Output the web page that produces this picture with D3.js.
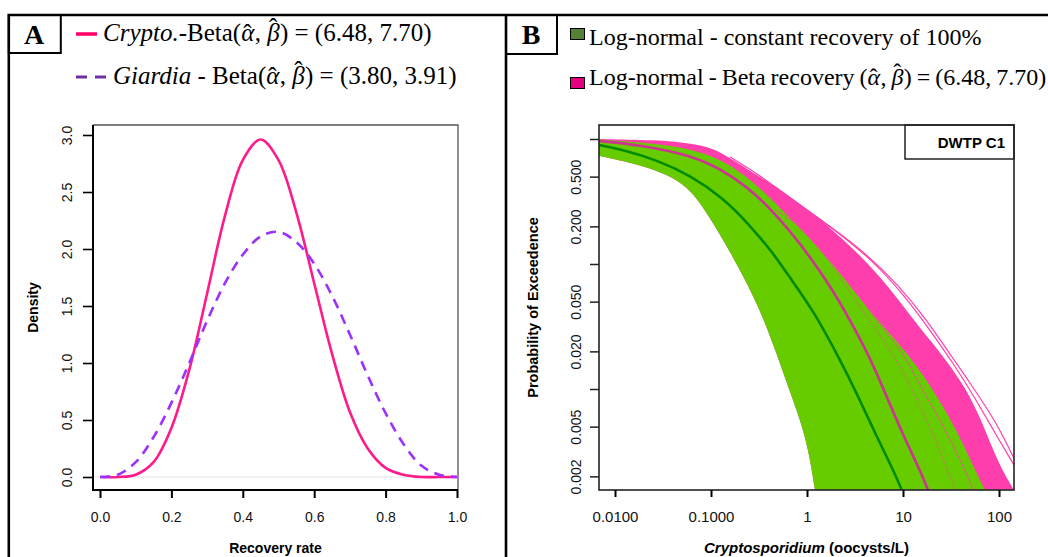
<!DOCTYPE html>
<html><head><meta charset="utf-8">
<script src="https://cdn.jsdelivr.net/npm/d3@7"></script>
<style>body{margin:0;background:#fff;} svg{display:block;}</style>
</head><body><svg id="c" width="1048" height="557"></svg>
<script>
// ---------------- DATA ----------------
// Panel A: beta densities of recovery rate
const recoveryX      = [0, 0.05, 0.10, 0.15, 0.20, 0.25, 0.30, 0.35, 0.40, 0.45, 0.50, 0.55, 0.60, 0.65, 0.70, 0.75, 0.80, 0.85, 0.90, 0.95, 1.00];
const cryptoDensity  = [0, 0.00, 0.02, 0.13, 0.43, 0.94, 1.61, 2.29, 2.78, 2.96, 2.78, 2.32, 1.70, 1.08, 0.57, 0.25, 0.08, 0.02, 0.00, 0.00, 0.00];
const giardiaDensity = [0, 0.02, 0.13, 0.35, 0.65, 1.00, 1.37, 1.70, 1.95, 2.11, 2.15, 2.06, 1.87, 1.59, 1.25, 0.89, 0.56, 0.29, 0.10, 0.02, 0.00];
const densityTicks  = [0, 0.5, 1, 1.5, 2, 2.5, 3];
const recoveryTicks = [0, 0.2, 0.4, 0.6, 0.8, 1.0];
const cryptoParams  = "(6.48, 7.70)";
const giardiaParams = "(3.80, 3.91)";

// Panel B: exceedance curves, pairs of [concentration (oocysts/L), probability of exceedence]
const concTicks      = [0.01, 0.1, 1, 10, 100];
const concTickLabels = ["0.0100", "0.1000", "1", "10", "100"];
const probTicks      = [1, 0.5, 0.2, 0.1, 0.05, 0.02, 0.01, 0.005, 0.002];
const probTickLabels = ["", "0.500", "0.200", "", "0.050", "0.020", "", "0.005", "0.002"];
const legendB1 = "Log-normal - constant recovery of 100%";
const legendB2 = "Log-normal - Beta recovery ";
const panelBTag = "DWTP C1";

const greenUpper  = [[0.0068,0.99],[0.0182,0.942],[0.0405,0.883],[0.0901,0.769],[0.171,0.600],[0.299,0.428],[0.524,0.281],[1.07,0.161],[2.39,0.0791],[4.53,0.0413],[10.9,0.0198],[20.7,0.00982],[36.3,0.00470],[56.2,0.00225],[71.5,0.00156]];
const greenLower  = [[0.0068,0.734],[0.0122,0.667],[0.0272,0.565],[0.0440,0.470],[0.0604,0.391],[0.0826,0.286],[0.113,0.194],[0.158,0.125],[0.237,0.0705],[0.348,0.0377],[0.488,0.0187],[0.665,0.00946],[0.908,0.00488],[1.07,0.00281],[1.21,0.00156]];
const greenMedian = [[0.0068,0.895],[0.0122,0.817],[0.0272,0.679],[0.0604,0.515],[0.134,0.336],[0.235,0.218],[0.446,0.122],[0.615,0.0843],[1.16,0.0429],[2.21,0.0171],[3.30,0.00924],[5.32,0.00415],[7.93,0.00225],[9.69,0.00156]];
const pinkUpper   = [[0.0068,1.0],[0.0272,0.982],[0.0604,0.925],[0.106,0.843],[0.158,0.702],[0.299,0.515],[0.483,0.413],[0.665,0.344],[1.60,0.209],[3.56,0.118],[7.33,0.0643],[13.3,0.0344],[24.3,0.0198],[43.2,0.0108],[63.4,0.0060],[86.6,0.00325],[115,0.00205],[143,0.00156]];
const pinkOutlier1 = [[0.158,0.718],[0.299,0.535],[0.665,0.337],[3.56,0.137],[9.31,0.0658],[17.7,0.0356],[32.2,0.0181],[49.9,0.0112],[80.5,0.00643],[102,0.00470],[143,0.0028]];
const pinkOutlier2 = [[0.665,0.330],[1.74,0.201],[4.53,0.112],[10.5,0.0555],[19.1,0.0296],[34.8,0.0153],[56.2,0.00847],[90.8,0.00445],[143,0.00247]];
const pinkStreak1 = [[0.464,0.270],[0.953,0.194],[2.21,0.0929],[4.02,0.0470],[7.33,0.0256],[10.0,0.0198],[16.9,0.00895],[28.1,0.00470],[44.2,0.00225],[53.6,0.00156]];
const pinkStreak2 = [[0.845,0.205],[1.74,0.104],[3.16,0.0515],[5.75,0.0270],[9.31,0.0156],[15.0,0.00745],[24.3,0.00325],[34.8,0.00156]];
const pinkMedian  = [[0.0068,0.964],[0.0182,0.895],[0.0604,0.745],[0.133,0.565],[0.237,0.413],[0.383,0.296],[0.714,0.174],[1.61,0.0745],[3.01,0.0325],[4.53,0.0177],[6.19,0.0102],[10.0,0.00429],[15.0,0.00225],[18.2,0.00156]];

// ---------------- DRAWING ----------------
const svg = d3.select("#c");
const sans = "'Liberation Sans', Arial, sans-serif";
const serif = "'Liberation Serif', 'Times New Roman', serif";

// text with italic pieces and hats over Greek letters
function richText(x, y, size, parts, extra) {
  const t = svg.append("text").attr("x", x).attr("y", y).attr("font-family", serif).attr("font-size", size);
  if (extra) t.attr("word-spacing", extra);
  let pending = null;
  parts.forEach(p => {
    if (p.hat) {
      t.append("tspan").attr("dx", p.back + "em").attr("dy", p.up + "em").text("\u02C6");
      pending = { dx: p.fwd, dy: -p.up };
      return;
    }
    const s = t.append("tspan").text(p.t);
    if (p.i) s.attr("font-style", "italic");
    if (pending) { s.attr("dx", pending.dx + "em").attr("dy", pending.dy + "em"); pending = null; }
  });
  return t;
}
const hatA = { hat: true, back: -0.44, up: 0.02, fwd: 0.12 };
const hatB = { hat: true, back: -0.42, up: -0.22, fwd: 0.10 };
const greekPair = (pre, post) => [{ t: pre }, { t: "\u03B1", i: true }, hatA, { t: ", " }, { t: "\u03B2", i: true }, hatB, { t: post }];

// outer frame and panel labels
svg.append("path").attr("d", "M7.5,15H1048M8.8,14V557M506,14V557")
  .attr("stroke", "#000").attr("stroke-width", 2.6).attr("fill", "none");
svg.append("rect").attr("x", 8.8).attr("y", 15).attr("width", 52).attr("height", 38)
  .attr("fill", "none").attr("stroke", "#000").attr("stroke-width", 2);
svg.append("rect").attr("x", 506).attr("y", 15).attr("width", 51).attr("height", 39)
  .attr("fill", "none").attr("stroke", "#000").attr("stroke-width", 2);
svg.append("text").attr("x", 34).attr("y", 44).attr("text-anchor", "middle")
  .attr("font-family", serif).attr("font-weight", "bold").attr("font-size", 28).text("A");
svg.append("text").attr("x", 531).attr("y", 44).attr("text-anchor", "middle")
  .attr("font-family", serif).attr("font-weight", "bold").attr("font-size", 28).text("B");

// Panel A legend
svg.append("line").attr("x1", 76).attr("x2", 97).attr("y1", 34).attr("y2", 34)
  .attr("stroke", "#FF0066").attr("stroke-width", 3.5);
richText(103, 41, 25, [{ t: "Crypto.", i: true }].concat(greekPair("-Beta(", ") = " + cryptoParams)));
svg.append("line").attr("x1", 76).attr("x2", 107).attr("y1", 77).attr("y2", 77)
  .attr("stroke", "#7030A0").attr("stroke-width", 3).attr("stroke-dasharray", "11,8");
richText(113, 84, 25, [{ t: "Giardia", i: true }].concat(greekPair(" - Beta(", ") = " + giardiaParams)));

// Panel B legend
svg.append("rect").attr("x", 570.5).attr("y", 28.5).attr("width", 14).attr("height", 11)
  .attr("fill", "#548235").attr("stroke", "#000").attr("stroke-width", 1);
svg.append("text").attr("x", 589).attr("y", 45).attr("font-family", serif).attr("font-size", 24).text(legendB1);
svg.append("rect").attr("x", 570.5).attr("y", 77.5).attr("width", 14).attr("height", 11)
  .attr("fill", "#E6007E").attr("stroke", "#000").attr("stroke-width", 1);
richText(589, 85, 24, greekPair(legendB2 + "(", ") = " + cryptoParams), "-1");

// ---------- Panel A plot ----------
const A = {l: 93, t: 125, r: 458, b: 490};
const xA = d3.scaleLinear().domain([0, 1]).range([100, 457]);
const yA = d3.scaleLinear().domain([0, 3]).range([477, 135]);

svg.append("line").attr("x1", A.l).attr("x2", A.r).attr("y1", yA(0)).attr("y2", yA(0))
  .attr("stroke", "#e2e2e2").attr("stroke-width", 1);

const lineA = d3.line().x(d => xA(d[0])).y(d => yA(d[1])).curve(d3.curveCatmullRom);
svg.append("path").datum(recoveryX.map((x, i) => [x, cryptoDensity[i]]))
  .attr("d", lineA).attr("fill", "none").attr("stroke", "#FF1A8C").attr("stroke-width", 2.6);
svg.append("path").datum(recoveryX.map((x, i) => [x, giardiaDensity[i]]))
  .attr("d", lineA).attr("fill", "none").attr("stroke", "#9B30FF").attr("stroke-width", 2.6)
  .attr("stroke-dasharray", "10,7");

// frame A
svg.append("path").attr("d", `M${A.l},${A.t}H${A.r}V${A.b}`).attr("fill", "none").attr("stroke", "#555").attr("stroke-width", 1.3);
svg.append("path").attr("d", `M${A.l},${A.t}V${A.b}H${A.r}`).attr("fill", "none").attr("stroke", "#000").attr("stroke-width", 2);

const axA_y = svg.append("g").attr("transform", `translate(${A.l},0)`)
  .call(d3.axisLeft(yA).tickValues(densityTicks).tickSize(10).tickFormat(d3.format(".1f")));
axA_y.select(".domain").remove();
axA_y.selectAll(".tick line").attr("stroke", "#000").attr("stroke-width", 1.6);
axA_y.selectAll(".tick text").attr("transform", "rotate(-90)").attr("x", 0).attr("y", -21).attr("dy", 0)
  .attr("text-anchor", "middle").attr("font-family", sans).attr("font-size", 14).attr("fill", "#111");

const axA_x = svg.append("g").attr("transform", `translate(0,${A.b})`)
  .call(d3.axisBottom(xA).tickValues(recoveryTicks).tickSize(8).tickFormat(d3.format(".1f")));
axA_x.select(".domain").remove();
axA_x.selectAll(".tick line").attr("stroke", "#000").attr("stroke-width", 2);
axA_x.selectAll(".tick text").attr("y", 32).attr("dy", 0)
  .attr("font-family", sans).attr("font-size", 14).attr("fill", "#111");

svg.append("text").attr("transform", "translate(38,307.5) rotate(-90)").attr("text-anchor", "middle")
  .attr("font-family", sans).attr("font-weight", "bold").attr("font-size", 14).text("Density");
svg.append("text").attr("x", 275.5).attr("y", 553).attr("text-anchor", "middle")
  .attr("font-family", sans).attr("font-weight", "bold").attr("font-size", 14).text("Recovery rate");

// ---------- Panel B plot ----------
const B = {l: 599, t: 125, r: 1014, b: 490};
const xB = d3.scaleLog().domain([0.01, 100]).range([615, 999]);
const yB = d3.scaleLog().domain([0.1, 0.01]).range([264, 389]);

svg.append("defs").append("clipPath").attr("id", "clipB")
  .append("rect").attr("x", B.l).attr("y", B.t).attr("width", B.r - B.l).attr("height", B.b - B.t);
const gB = svg.append("g").attr("clip-path", "url(#clipB)");

const lineB = d3.line().x(d => xB(d[0])).y(d => yB(d[1])).curve(d3.curveBasis);
const band = (upper, lower) => lineB(upper) + lineB(lower.slice().reverse()).replace("M", "L") + "Z";
const thin = (data, w, op) => gB.append("path").datum(data).attr("d", lineB).attr("fill", "none")
  .attr("stroke", "#FF3EAD").attr("stroke-width", w).attr("stroke-opacity", op);

gB.append("path").attr("d", band(pinkUpper, greenLower)).attr("fill", "#FF3EAD");
thin(pinkOutlier1, 1.2, 1);
thin(pinkOutlier2, 1.2, 1);
gB.append("path").attr("d", band(greenUpper, greenLower)).attr("fill", "#66CC00");
thin(pinkStreak1, 1, 0.8);
thin(pinkStreak2, 0.8, 0.55);
gB.append("path").datum(pinkMedian).attr("d", lineB).attr("fill", "none").attr("stroke", "#CD3393").attr("stroke-width", 2.6);
gB.append("path").datum(greenMedian).attr("d", lineB).attr("fill", "none").attr("stroke", "#008B00").attr("stroke-width", 2.6);

// DWTP tag box
svg.append("rect").attr("x", 905).attr("y", B.t).attr("width", B.r - 905).attr("height", 34)
  .attr("fill", "#fff").attr("stroke", "#000").attr("stroke-width", 1.3);
svg.append("text").attr("x", 1005).attr("y", 148).attr("text-anchor", "end")
  .attr("font-family", sans).attr("font-weight", "bold").attr("font-size", 15).text(panelBTag);

// frame B
svg.append("rect").attr("x", B.l).attr("y", B.t).attr("width", B.r - B.l).attr("height", B.b - B.t)
  .attr("fill", "none").attr("stroke", "#222").attr("stroke-width", 1.6);

const axB_y = svg.append("g").attr("transform", `translate(${B.l},0)`)
  .call(d3.axisLeft(yB).tickValues(probTicks).tickSize(9).tickFormat((d, i) => probTickLabels[i]));
axB_y.select(".domain").remove();
axB_y.selectAll(".tick line").attr("stroke", "#222").attr("stroke-width", 1.5);
axB_y.selectAll(".tick text").attr("transform", "rotate(-90)").attr("x", 0).attr("y", -18).attr("dy", 0)
  .attr("text-anchor", "middle").attr("font-family", sans).attr("font-size", 14).attr("fill", "#111");

const axB_x = svg.append("g").attr("transform", `translate(0,${B.b})`)
  .call(d3.axisBottom(xB).tickValues(concTicks).tickSize(7).tickFormat((d, i) => concTickLabels[i]));
axB_x.select(".domain").remove();
axB_x.selectAll(".tick line").attr("stroke", "#000").attr("stroke-width", 2);
axB_x.selectAll(".tick text").attr("y", 32).attr("dy", 0)
  .attr("font-family", sans).attr("font-size", 15).attr("fill", "#111");

svg.append("text").attr("transform", "translate(538,307.5) rotate(-90)").attr("text-anchor", "middle")
  .attr("font-family", sans).attr("font-weight", "bold").attr("font-size", 14.5).text("Probability of Exceedence");
const tB = svg.append("text").attr("x", 806.5).attr("y", 553).attr("text-anchor", "middle")
  .attr("font-family", sans).attr("font-weight", "bold").attr("font-size", 15);
tB.append("tspan").attr("font-style", "italic").text("Cryptosporidium");
tB.append("tspan").text(" (oocysts/L)");
</script></body></html>
